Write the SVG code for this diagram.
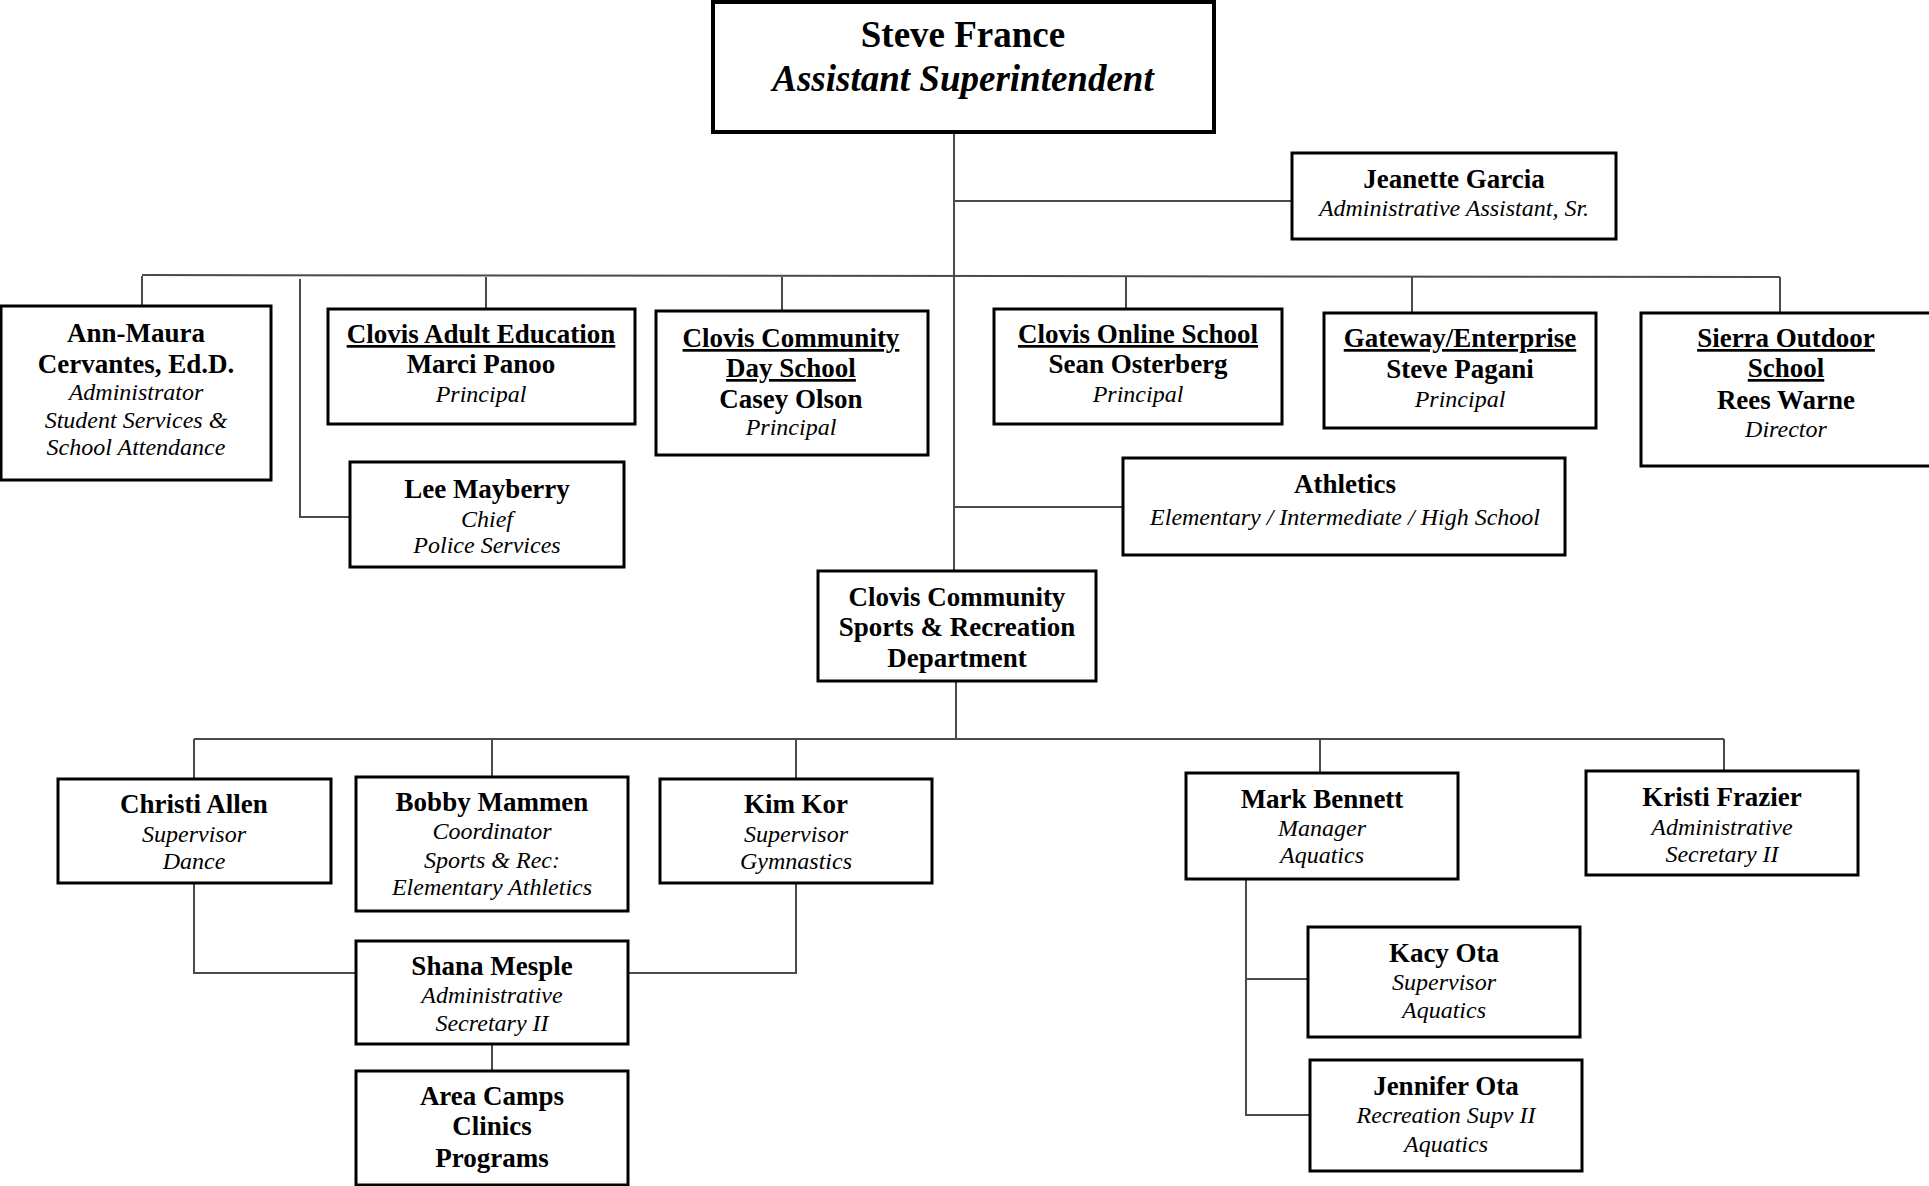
<svg xmlns="http://www.w3.org/2000/svg" width="1929" height="1186" viewBox="0 0 1929 1186">
<style>
.box{fill:#fff;stroke:#000;stroke-width:3}
.conn path{fill:none;stroke:#4a4a4a;stroke-width:2}
text{text-anchor:middle;fill:#000;font-family:"Liberation Serif","Times New Roman",serif}
.b{font-weight:bold;font-size:27px}
.i{font-style:italic;font-size:24px}
.u{text-decoration:underline}
.t{font-weight:bold;font-size:37px}
</style>
<rect width="1929" height="1186" fill="#fff"/>
<g class="conn" id="connectors">
<path d="M954 132V571"/>
<path d="M954 201H1292"/>
<path d="M142 275L1780 277"/>
<path d="M142 276V306"/>
<path d="M486 277V309"/>
<path d="M782 277V311"/>
<path d="M1126 277V309"/>
<path d="M1412 277V313"/>
<path d="M1780 277V313"/>
<path d="M300 279V517H350"/>
<path d="M954 507H1123"/>
<path d="M956 681V739"/>
<path d="M194 739H1724"/>
<path d="M194 739V779"/>
<path d="M492 739V777"/>
<path d="M796 739V779"/>
<path d="M1320 739V773"/>
<path d="M1724 739V771"/>
<path d="M194 883V973H356"/>
<path d="M796 883V973H628"/>
<path d="M492 1044V1071"/>
<path d="M1246 879V1115H1310"/>
<path d="M1246 979H1308"/>
</g>
<g id="steve-france">
<rect class="box" x="713" y="2" width="501" height="130" style="stroke-width:4"/>
<text class="t" x="963" y="47">Steve France</text>
<text class="t" x="963" y="91" font-style="italic">Assistant Superintendent</text>
</g>
<g id="jeanette-garcia">
<rect class="box" x="1292" y="153" width="324" height="86"/>
<text class="b" x="1454" y="188">Jeanette Garcia</text>
<text class="i" x="1454" y="216">Administrative Assistant, Sr.</text>
</g>
<g id="ann-maura">
<rect class="box" x="1" y="306" width="270" height="174"/>
<text class="b" x="136" y="342">Ann-Maura</text>
<text class="b" x="136" y="373">Cervantes, Ed.D.</text>
<text class="i" x="136" y="400">Administrator</text>
<text class="i" x="136" y="428">Student Services &amp;</text>
<text class="i" x="136" y="455">School Attendance</text>
</g>
<g id="adult-ed">
<rect class="box" x="328" y="309" width="307" height="115"/>
<text class="b u" x="481" y="343">Clovis Adult Education</text>
<text class="b" x="481" y="373">Marci Panoo</text>
<text class="i" x="481" y="402">Principal</text>
</g>
<g id="lee-mayberry">
<rect class="box" x="350" y="462" width="274" height="105"/>
<text class="b" x="487" y="498">Lee Mayberry</text>
<text class="i" x="487" y="527">Chief</text>
<text class="i" x="487" y="553">Police Services</text>
</g>
<g id="day-school">
<rect class="box" x="656" y="311" width="272" height="144"/>
<text class="b u" x="791" y="347">Clovis Community</text>
<text class="b u" x="791" y="377">Day School</text>
<text class="b" x="791" y="408">Casey Olson</text>
<text class="i" x="791" y="435">Principal</text>
</g>
<g id="online-school">
<rect class="box" x="994" y="309" width="288" height="115"/>
<text class="b u" x="1138" y="343">Clovis Online School</text>
<text class="b" x="1138" y="373">Sean Osterberg</text>
<text class="i" x="1138" y="402">Principal</text>
</g>
<g id="gateway">
<rect class="box" x="1324" y="313" width="272" height="115"/>
<text class="b u" x="1460" y="347">Gateway/Enterprise</text>
<text class="b" x="1460" y="378">Steve Pagani</text>
<text class="i" x="1460" y="407">Principal</text>
</g>
<g id="sierra">
<rect class="box" x="1641" y="313" width="290" height="153"/>
<text class="b u" x="1786" y="347">Sierra Outdoor</text>
<text class="b u" x="1786" y="377">School</text>
<text class="b" x="1786" y="409">Rees Warne</text>
<text class="i" x="1786" y="437">Director</text>
</g>
<g id="athletics">
<rect class="box" x="1123" y="458" width="442" height="97"/>
<text class="b" x="1345" y="493">Athletics</text>
<text class="i" x="1345" y="525">Elementary / Intermediate / High School</text>
</g>
<g id="sports-rec">
<rect class="box" x="818" y="571" width="278" height="110"/>
<text class="b" x="957" y="606">Clovis Community</text>
<text class="b" x="957" y="636">Sports &amp; Recreation</text>
<text class="b" x="957" y="667">Department</text>
</g>
<g id="christi-allen">
<rect class="box" x="58" y="779" width="273" height="104"/>
<text class="b" x="194" y="813">Christi Allen</text>
<text class="i" x="194" y="842">Supervisor</text>
<text class="i" x="194" y="869">Dance</text>
</g>
<g id="bobby-mammen">
<rect class="box" x="356" y="777" width="272" height="134"/>
<text class="b" x="492" y="811">Bobby Mammen</text>
<text class="i" x="492" y="839">Coordinator</text>
<text class="i" x="492" y="868">Sports &amp; Rec:</text>
<text class="i" x="492" y="895">Elementary Athletics</text>
</g>
<g id="kim-kor">
<rect class="box" x="660" y="779" width="272" height="104"/>
<text class="b" x="796" y="813">Kim Kor</text>
<text class="i" x="796" y="842">Supervisor</text>
<text class="i" x="796" y="869">Gymnastics</text>
</g>
<g id="shana-mesple">
<rect class="box" x="356" y="941" width="272" height="103"/>
<text class="b" x="492" y="975">Shana Mesple</text>
<text class="i" x="492" y="1003">Administrative</text>
<text class="i" x="492" y="1031">Secretary II</text>
</g>
<g id="area-camps">
<rect class="box" x="356" y="1071" width="272" height="114"/>
<text class="b" x="492" y="1105">Area Camps</text>
<text class="b" x="492" y="1135">Clinics</text>
<text class="b" x="492" y="1167">Programs</text>
</g>
<g id="mark-bennett">
<rect class="box" x="1186" y="773" width="272" height="106"/>
<text class="b" x="1322" y="808">Mark Bennett</text>
<text class="i" x="1322" y="836">Manager</text>
<text class="i" x="1322" y="863">Aquatics</text>
</g>
<g id="kristi-frazier">
<rect class="box" x="1586" y="771" width="272" height="104"/>
<text class="b" x="1722" y="806">Kristi Frazier</text>
<text class="i" x="1722" y="835">Administrative</text>
<text class="i" x="1722" y="862">Secretary II</text>
</g>
<g id="kacy-ota">
<rect class="box" x="1308" y="927" width="272" height="110"/>
<text class="b" x="1444" y="962">Kacy Ota</text>
<text class="i" x="1444" y="990">Supervisor</text>
<text class="i" x="1444" y="1018">Aquatics</text>
</g>
<g id="jennifer-ota">
<rect class="box" x="1310" y="1060" width="272" height="111"/>
<text class="b" x="1446" y="1095">Jennifer Ota</text>
<text class="i" x="1446" y="1123">Recreation Supv II</text>
<text class="i" x="1446" y="1152">Aquatics</text>
</g>
</svg>
